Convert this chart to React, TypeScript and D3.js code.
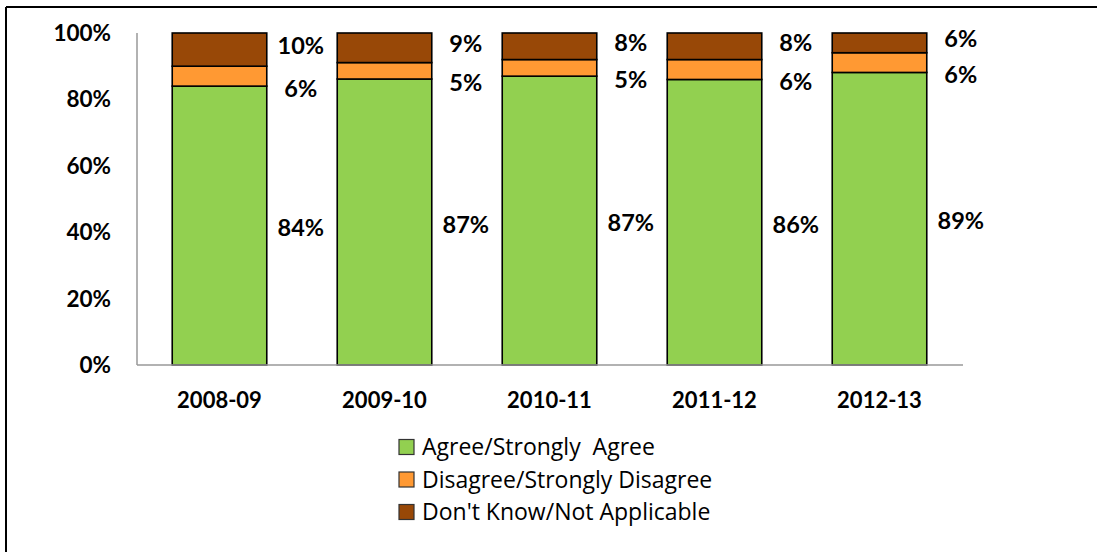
import React from "react";
import * as d3 from "d3";

const categories = ["2008-09", "2009-10", "2010-11", "2011-12", "2012-13"];
const agree = [84, 87, 87, 86, 89];
const disagree = [6, 5, 5, 6, 6];
const dontKnow = [10, 9, 8, 8, 6];
const seriesNames = ["Agree/Strongly  Agree", "Disagree/Strongly Disagree", "Don't Know/Not Applicable"];
const seriesColors = ["#92D050", "#FF9933", "#984807"];
const yTicks = [0, 0.2, 0.4, 0.6, 0.8, 1];

const W = 1097;
const H = 552;
const FONT = "Lato, 'Open Sans', sans-serif";

export default function App() {
  const rows = categories.map((c, i) => ({ cat: c, s0: agree[i], s1: disagree[i], s2: dontKnow[i] }));
  const keys = ["s0", "s1", "s2"];
  const stack = d3.stack<any>().keys(keys).offset(d3.stackOffsetExpand);
  const layers = stack(rows);
  const raw = [agree, disagree, dontKnow];

  const x = d3.scaleBand<string>().domain(categories).range([137, 962]).paddingInner(0.427).paddingOuter(0.2135);
  const y = d3.scaleLinear().domain([0, 1]).range([365, 33]);
  const labelDy = [2, 12, -4];

  return (
    <svg width={W} height={H} style={{ position: "absolute", left: 0, top: 0, background: "#fff" }} fontFamily={FONT}>
      <rect x={0} y={0} width={W} height={H} fill="#fff" />
      <line x1={6} y1={7} x2={W} y2={7} stroke="#000" strokeWidth={2} />
      <line x1={6} y1={7} x2={6} y2={H} stroke="#000" strokeWidth={2} />

      {/* y tick labels */}
      {yTicks.map((t) => (
        <text key={t} x={111} y={y(t) + 8} textAnchor="end" fontSize={22.5} fontWeight={700} fill="#000">
          {d3.format(".0%")(t)}
        </text>
      ))}

      {/* bars */}
      {layers.map((layer, li) => (
        <g key={li}>
          {layer.map((d, i) => (
            <rect
              key={i}
              x={x(categories[i])!}
              y={y(d[1])}
              width={x.bandwidth()}
              height={y(d[0]) - y(d[1])}
              fill={seriesColors[li]}
              stroke="#000"
              strokeWidth={1.6}
            />
          ))}
        </g>
      ))}

      {/* axes */}
      <line x1={137} y1={33} x2={137} y2={365} stroke="#989898" strokeWidth={1.5} />
      <line x1={137} y1={365} x2={963} y2={365} stroke="#989898" strokeWidth={1.5} />

      {/* data labels */}
      {layers.map((layer, li) => (
        <g key={"l" + li}>
          {layer.map((d, i) => (
            <text
              key={i}
              x={x(categories[i])! + x.bandwidth() + 34}
              y={(y(d[0]) + y(d[1])) / 2 + labelDy[li] + 8.5}
              textAnchor="middle"
              fontSize={23.5}
              fontWeight={700}
              fill="#000"
            >
              {raw[li][i]}%
            </text>
          ))}
        </g>
      ))}

      {/* category labels */}
      {categories.map((c) => (
        <text key={c} x={x(c)! + x.bandwidth() / 2} y={408} textAnchor="middle" fontSize={22} fontWeight={700} fill="#000">
          {c}
        </text>
      ))}

      {/* legend */}
      {seriesNames.map((n, i) => (
        <g key={n} transform={`translate(399, ${447 + i * 32.5})`}>
          <rect x={0} y={-7.5} width={15} height={15} fill={seriesColors[i]} stroke="#333" strokeWidth={1.2} />
          <text x={23} y={8} fontSize={23} fontFamily="'Open Sans', Lato, sans-serif" fill="#000" style={{ whiteSpace: "pre" }} xmlSpace="preserve">
            {n}
          </text>
        </g>
      ))}
    </svg>
  );
}
